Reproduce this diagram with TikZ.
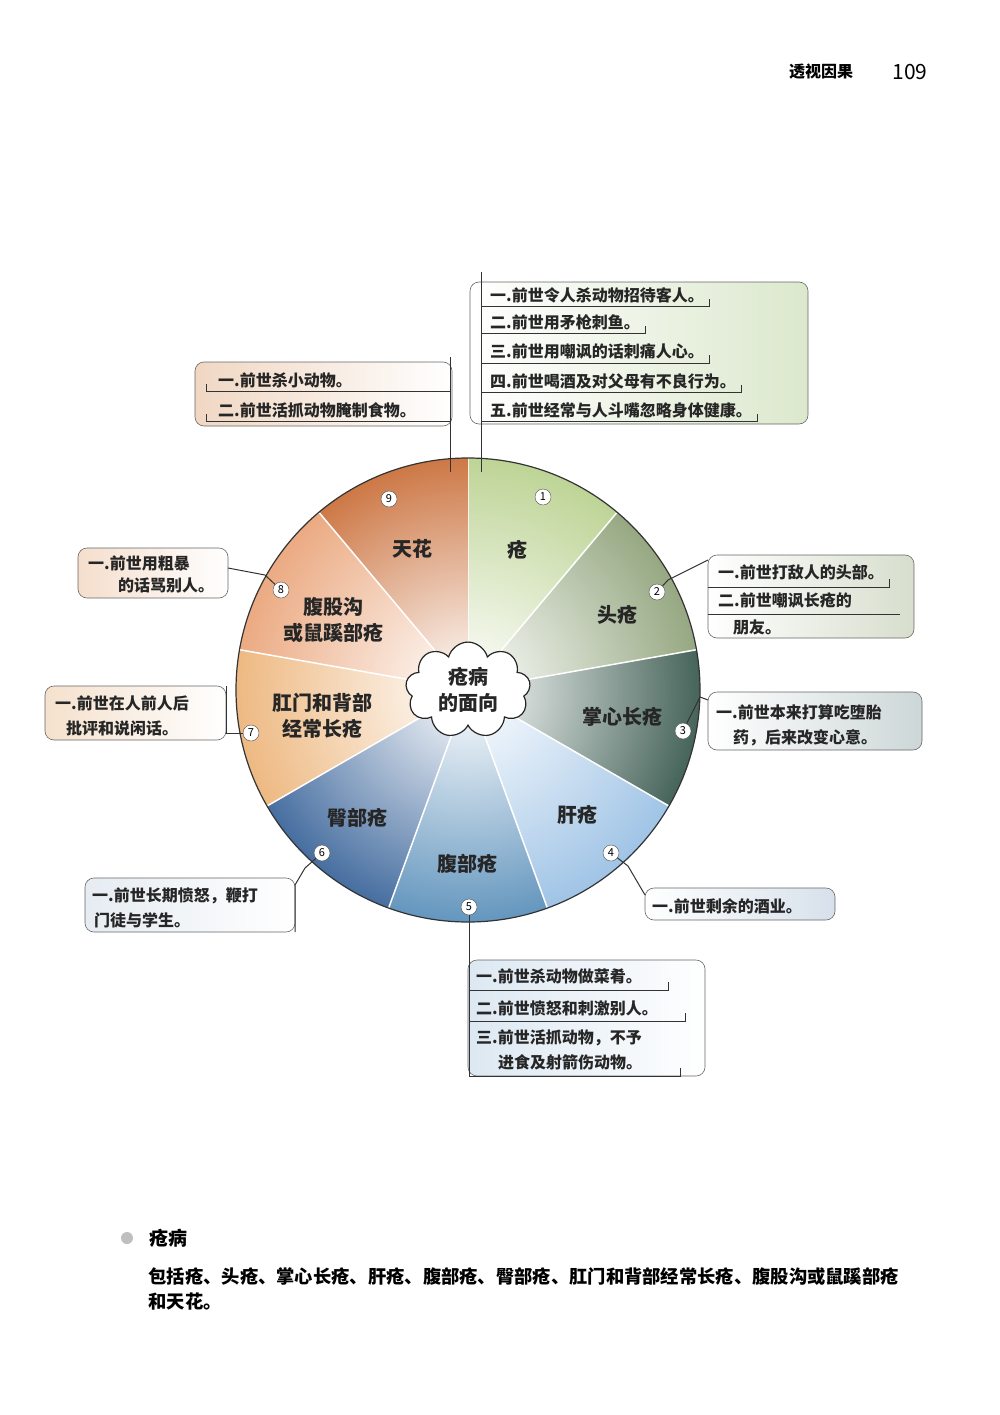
\documentclass[tikz,border=0pt]{standalone}
\usepackage{fontspec}
\setmainfont{Noto Sans CJK SC}
\usetikzlibrary{shapes.symbols}
\begin{document}
\begin{tikzpicture}[x=1pt,y=-1pt,
  itm/.style={anchor=west,inner sep=0pt,font=\fontsize{16}{18}\selectfont\bfseries,text=black!85},
  lbl/.style={align=center,font=\fontsize{20}{26}\selectfont\bfseries,text=black!85},
  num/.style={circle,draw=black!70,fill=white,inner sep=0pt,minimum size=16pt,font=\fontsize{11}{11}\selectfont},
  ln/.style={draw=black!80,line width=1pt},
  bx/.style={rounded corners=9pt,draw=black!60,line width=0.6pt}]
\useasboundingbox (0,0) rectangle (1000,1415);
\fill[white] (0,0) rectangle (1000,1415);
\coordinate (c) at (468,690);
\def\R{232}
\foreach \a/\col in {-90/{rgb,255:red,190;green,212;blue,150},-50/{rgb,255:red,150;green,168;blue,130},-10/{rgb,255:red,70;green,100;blue,90},30/{rgb,255:red,160;green,196;blue,230},70/{rgb,255:red,100;green,150;blue,190},110/{rgb,255:red,70;green,110;blue,160},150/{rgb,255:red,238;green,185;blue,130},190/{rgb,255:red,235;green,170;blue,130},230/{rgb,255:red,205;green,120;blue,70}}{
  \begin{scope}
    \clip (c) -- ++(\a:\R) arc[start angle=\a,end angle=\a+40,radius=\R] -- cycle;
    \shade[inner color=white,outer color=\col] (c) circle (\R);
  \end{scope}
  \draw[white,line width=1.5pt] (c) -- ++(\a:\R);
}
\draw[black!80,line width=1.2pt] (c) circle (\R);
\node[cloud,cloud puffs=9,aspect=1.4,draw=black!85,line width=1.2pt,fill=white,minimum width=125pt,minimum height=90pt,lbl] (hub) at (c) {疮病\\的面向};
\node[lbl] (l1) at (517,550) {疮};
\node[lbl] (l2) at (617,615) {头疮};
\node[lbl] (l3) at (622,717) {掌心长疮};
\node[lbl] (l4) at (577,815) {肝疮};
\node[lbl] (l5) at (467,864) {腹部疮};
\node[lbl] (l6) at (357,818) {臀部疮};
\node[lbl] (l7) at (322,716) {肛门和背部\\经常长疮};
\node[lbl] (l8) at (333,620) {腹股沟\\或鼠蹊部疮};
\node[lbl] (l9) at (412,549) {天花};
\node[num] (n1) at (543,497) {1};
\node[num] (n2) at (657,592) {2};
\node[num] (n3) at (683,731) {3};
\node[num] (n4) at (611,853) {4};
\node[num] (n5) at (469,907) {5};
\node[num] (n6) at (322,853) {6};
\node[num] (n7) at (251,733) {7};
\node[num] (n8) at (281,590) {8};
\node[num] (n9) at (389,499) {9};
% box 1
\shade[bx,left color=white,right color={rgb,255:red,220;green,232;blue,205}] (470,282) rectangle (808,424);
\draw[ln] (481,472) -- (481,272);
\node[itm] (b1a) at (490,295) {一.前世令人杀动物招待客人。};
\node[itm] (b1b) at (490,322) {二.前世用矛枪刺鱼。};
\node[itm] (b1c) at (490,351) {三.前世用嘲讽的话刺痛人心。};
\node[itm] (b1d) at (490,381) {四.前世喝酒及对父母有不良行为。};
\node[itm] (b1e) at (490,410) {五.前世经常与人斗嘴忽略身体健康。};
\foreach \n in {b1a,b1b,b1c,b1d,b1e}{\draw[ln] ([yshift=-4pt]\n.south west -| 481,0) -- ([xshift=5pt,yshift=-4pt]\n.south east) -- ++(0,-8);}
% box 9
\shade[bx,left color={rgb,255:red,240;green,215;blue,195},right color=white] (195,362) rectangle (452,426);
\draw[ln] (450,472) -- (450,357);
\node[itm] (b9a) at (218,380) {一.前世杀小动物。};
\node[itm] (b9b) at (218,410) {二.前世活抓动物腌制食物。};
\foreach \n in {b9a,b9b}{\draw[ln] ([yshift=-4pt]\n.south east -| 450,0) -- ([xshift=-12pt,yshift=-4pt]\n.south west) -- ++(0,-8);}
% box 2
\shade[bx,left color=white,right color={rgb,255:red,215;green,222;blue,205}] (708,555) rectangle (914,638);
\draw[ln] (n2) -- (668,580) -- (708,560);
\node[itm] (b2a) at (718,572) {一.前世打敌人的头部。};
\node[itm] (b2b) at (718,601) {二.前世嘲讽长疮的};
\node[itm] (b2c) at (733,627) {朋友。};
\draw[ln] (708,587) -- ([xshift=5pt]b2a.east |- 708,587) -- ++(0,-8);
\draw[ln] (708,614) -- (900,614);
% box 3
\shade[bx,left color=white,right color={rgb,255:red,205;green,215;blue,215}] (708,692) rectangle (922,750);
\draw[ln] (n3) -- (700,697) -- (708,700);
\node[itm] (b3a) at (716,712) {一.前世本来打算吃堕胎};
\node[itm] (b3b) at (733,738) {药，后来改变心意。};
% box 4
\shade[bx,left color=white,right color={rgb,255:red,215;green,225;blue,235}] (645,888) rectangle (835,920);
\draw[ln] (n4) -- (628,866) -- (645,895);
\node[itm] (b4a) at (652,906) {一.前世剩余的酒业。};
% box 5
\shade[bx,left color={rgb,255:red,220;green,232;blue,242},right color=white] (468,960) rectangle (705,1076);
\draw[ln] (n5) -- (469,1076);
\node[itm] (b5a) at (476,976) {一.前世杀动物做菜肴。};
\node[itm] (b5b) at (476,1008) {二.前世愤怒和刺激别人。};
\node[itm] (b5c) at (476,1038) {三.前世活抓动物，不予};
\node[itm] (b5d) at (498,1062) {进食及射箭伤动物。};
\draw[ln] (469,990) -- (668,990) -- ++(0,-8);
\draw[ln] (469,1021) -- (685,1021) -- ++(0,-8);
\draw[ln] (469,1076) -- (680,1076) -- ++(0,-8);
% box 6
\shade[bx,left color={rgb,255:red,230;green,236;blue,242},right color=white] (85,878) rectangle (295,932);
\draw[ln] (n6) -- (305,868) -- (295,885) -- (295,932);
\node[itm] (b6a) at (92,896) {一.前世长期愤怒，鞭打};
\node[itm] (b6b) at (94,920) {门徒与学生。};
% box 7
\shade[bx,left color={rgb,255:red,245;green,225;blue,205},right color=white] (45,686) rectangle (226,740);
\draw[ln] (n7) -- (226,733) -- (226,686);
\node[itm] (b7a) at (55,703) {一.前世在人前人后};
\node[itm] (b7b) at (66,728) {批评和说闲话。};
% box 8
\shade[bx,left color={rgb,255:red,245;green,222;blue,205},right color=white] (78,548) rectangle (228,598);
\draw[ln] (n8) -- (265,575) -- (228,568);
\node[itm] (b8a) at (88,563) {一.前世用粗暴};
\node[itm] (b8b) at (118,585) {的话骂别人。};
% header
\node[font=\fontsize{16}{16}\selectfont\bfseries] (hd) at (821,72) {透视因果};
\node[font=\fontsize{21}{21}\selectfont] (pg) at (910,72) {109};
% footer
\fill[black!25] (127,1238) circle (6);
\node[anchor=west,font=\fontsize{19}{19}\selectfont\bfseries] (ft) at (146,1238) {疮病};
\node[anchor=west,font=\fontsize{18.3}{20}\selectfont\bfseries] (fa) at (145,1277) {包括疮、头疮、掌心长疮、肝疮、腹部疮、臀部疮、肛门和背部经常长疮、腹股沟或鼠蹊部疮};
\node[anchor=west,font=\fontsize{18.3}{20}\selectfont\bfseries] (fb) at (145,1302) {和天花。};
\end{tikzpicture}
\end{document}
